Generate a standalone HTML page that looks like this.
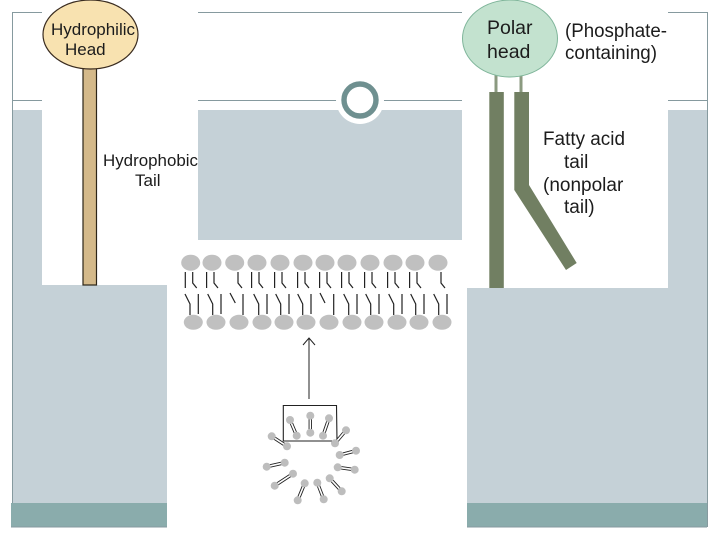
<!DOCTYPE html>
<html><head><meta charset="utf-8">
<style>html,body{margin:0;padding:0;background:#fff}svg{display:block}text{font-family:"Liberation Sans",sans-serif;fill:#1c1c1c}</style>
</head><body>
<svg width="720" height="540" viewBox="0 0 720 540" xmlns="http://www.w3.org/2000/svg">
<defs>
<g id="tu" fill="none" stroke="#222" stroke-width="1.2"><path d="M-5.4 272V288"/><path d="M2 272V283L6 288"/></g>
<g id="tb" fill="none" stroke="#222" stroke-width="1.2"><path d="M-8.3 294L-3.3 304V315"/><path d="M5 294V314"/></g>
</defs>
<rect width="720" height="540" fill="#fff"/>
<!-- background panels -->
<rect x="12" y="110" width="695" height="393" fill="#c5d1d7"/>
<rect x="42" y="100" width="156" height="185" fill="#fff"/>
<rect x="167" y="240" width="300" height="300" fill="#fff"/>
<rect x="462" y="100" width="206" height="188" fill="#fff"/>
<rect x="11" y="503" width="156" height="24" fill="#8aacac"/>
<rect x="467" y="503" width="240" height="24" fill="#8aacac"/>
<!-- frame lines -->
<g stroke="#869a9f" stroke-width="1" fill="none">
<path d="M12.5 12V503"/><path d="M707.5 12V527"/>
<path d="M12 12.5H42"/><path d="M198 12.5H462"/><path d="M668 12.5H707"/>
<path d="M12 100.5H42"/><path d="M198 100.5H462"/><path d="M668 100.5H707"/>
<path d="M11 527H167"/><path d="M467 527H707"/>
</g>
<!-- ring -->
<circle cx="360" cy="100" r="24" fill="#fff"/>
<circle cx="360" cy="100" r="16" fill="#fff" stroke="#6f9090" stroke-width="5.4"/>
<!-- left molecule -->
<rect x="83" y="68" width="13.5" height="217" fill="#d4b98a" stroke="#2c2418" stroke-width="1.2"/>
<ellipse cx="90.5" cy="34.5" rx="47.5" ry="34.5" fill="#f8e2b0" stroke="#3a2c20" stroke-width="1.2"/>
<text x="51" y="35" font-size="17" textLength="84" lengthAdjust="spacingAndGlyphs">Hydrophilic</text>
<text x="65" y="55" font-size="17">Head</text>
<text x="103" y="166" font-size="17" textLength="95" lengthAdjust="spacingAndGlyphs">Hydrophobic</text>
<text x="135" y="186" font-size="17">Tail</text>
<!-- right molecule -->
<rect x="494.5" y="74" width="3" height="20" fill="#8b9a80"/>
<rect x="519.5" y="74" width="3" height="20" fill="#8b9a80"/>
<ellipse cx="510" cy="38.5" rx="47.5" ry="38.5" fill="#c3e2cf" stroke="#7fb59a" stroke-width="1"/>
<rect x="489.3" y="92" width="14.5" height="196" fill="#717f62"/>
<path d="M514.3 92H529V185L576.7 263L566 270L514.3 190Z" fill="#717f62"/>
<text x="487" y="34" font-size="19.5">Polar</text>
<text x="487" y="58" font-size="19.5">head</text>
<text x="565" y="37" font-size="19" textLength="102" lengthAdjust="spacingAndGlyphs">(Phosphate-</text>
<text x="565" y="59" font-size="19" textLength="92" lengthAdjust="spacingAndGlyphs">containing)</text>
<text x="543" y="145" font-size="19" textLength="82" lengthAdjust="spacingAndGlyphs">Fatty acid</text>
<text x="564" y="168" font-size="19">tail</text>
<text x="543" y="191" font-size="19">(nonpolar</text>
<text x="564" y="213" font-size="19">tail)</text>
<!-- bilayer tails -->
<use href="#tu" x="190.7"/><use href="#tu" x="212"/>
<path d="M238 272V283L242 288" fill="none" stroke="#222" stroke-width="1.2"/>
<use href="#tu" x="257"/><use href="#tu" x="280"/><use href="#tu" x="303"/><use href="#tu" x="325"/><use href="#tu" x="347"/><use href="#tu" x="370"/><use href="#tu" x="393"/><use href="#tu" x="415"/>
<path d="M441 272V283L445 288" fill="none" stroke="#222" stroke-width="1.2"/>
<use href="#tb" x="193.3"/><use href="#tb" x="216"/>
<path d="M230 293L235.3 303M243 294V315" fill="none" stroke="#222" stroke-width="1.2"/>
<use href="#tb" x="262"/><use href="#tb" x="284"/><use href="#tb" x="306"/>
<path d="M320 293L325 303M333.7 294V315" fill="none" stroke="#222" stroke-width="1.2"/>
<use href="#tb" x="352"/><use href="#tb" x="374"/><use href="#tb" x="397"/><use href="#tb" x="419"/><use href="#tb" x="442"/>
<!-- bilayer heads -->
<g fill="#c0c0c0">
<ellipse cx="190.7" cy="262.7" rx="9.5" ry="8"/><ellipse cx="212" cy="262.7" rx="9.5" ry="8"/><ellipse cx="234.7" cy="262.7" rx="9.5" ry="8"/><ellipse cx="257" cy="262.7" rx="9.5" ry="8"/><ellipse cx="280" cy="262.7" rx="9.5" ry="8"/><ellipse cx="303" cy="262.7" rx="9.5" ry="8"/><ellipse cx="325" cy="262.7" rx="9.5" ry="8"/><ellipse cx="347" cy="262.7" rx="9.5" ry="8"/><ellipse cx="370" cy="262.7" rx="9.5" ry="8"/><ellipse cx="393" cy="262.7" rx="9.5" ry="8"/><ellipse cx="415" cy="262.7" rx="9.5" ry="8"/><ellipse cx="438" cy="262.7" rx="9.5" ry="8"/>
<ellipse cx="193.3" cy="322.3" rx="9.5" ry="7.5"/><ellipse cx="216" cy="322.3" rx="9.5" ry="7.5"/><ellipse cx="239" cy="322.3" rx="9.5" ry="7.5"/><ellipse cx="262" cy="322.3" rx="9.5" ry="7.5"/><ellipse cx="284" cy="322.3" rx="9.5" ry="7.5"/><ellipse cx="306" cy="322.3" rx="9.5" ry="7.5"/><ellipse cx="329" cy="322.3" rx="9.5" ry="7.5"/><ellipse cx="352" cy="322.3" rx="9.5" ry="7.5"/><ellipse cx="374" cy="322.3" rx="9.5" ry="7.5"/><ellipse cx="397" cy="322.3" rx="9.5" ry="7.5"/><ellipse cx="419" cy="322.3" rx="9.5" ry="7.5"/><ellipse cx="442" cy="322.3" rx="9.5" ry="7.5"/>
</g>
<!-- arrow -->
<path d="M309 399V338M303 345L309 338L315 345" fill="none" stroke="#222" stroke-width="1"/>
<!-- box -->
<path d="M283.3 405.5H336.5L337 441H283.3Z" fill="none" stroke="#222" stroke-width="1.1"/>
<!-- micelle tails -->
<g fill="none" stroke="#222" stroke-width="3.4">
<path d="M290 420L296.7 435.7M310.3 415.7V432.7M329 418.3L323 435.7M346 430.3L335 443.3M356 450.7L339.7 455M354.7 469.7L337.7 467.3M341.7 491.3L329.7 478.3M323.7 499.3L317.3 482.7M297.7 500.3L304.7 483.3M274.7 485.7L293 473.7M266.7 466.7L284.7 462.7M271.7 436.3L287 446.3"/>
</g>
<g fill="none" stroke="#fff" stroke-width="1.6">
<path d="M290 420L296.7 435.7M310.3 415.7V432.7M329 418.3L323 435.7M346 430.3L335 443.3M356 450.7L339.7 455M354.7 469.7L337.7 467.3M341.7 491.3L329.7 478.3M323.7 499.3L317.3 482.7M297.7 500.3L304.7 483.3M274.7 485.7L293 473.7M266.7 466.7L284.7 462.7M271.7 436.3L287 446.3"/>
</g>
<!-- micelle heads -->
<g fill="#bdbdbd">
<circle cx="290" cy="420" r="4"/><circle cx="296.7" cy="435.7" r="4"/><circle cx="310.3" cy="415.7" r="4"/><circle cx="310.3" cy="432.7" r="4"/><circle cx="329" cy="418.3" r="4"/><circle cx="323" cy="435.7" r="4"/><circle cx="346" cy="430.3" r="4"/><circle cx="335" cy="443.3" r="4"/><circle cx="356" cy="450.7" r="4"/><circle cx="339.7" cy="455" r="4"/><circle cx="354.7" cy="469.7" r="4"/><circle cx="337.7" cy="467.3" r="4"/><circle cx="341.7" cy="491.3" r="4"/><circle cx="329.7" cy="478.3" r="4"/><circle cx="323.7" cy="499.3" r="4"/><circle cx="317.3" cy="482.7" r="4"/><circle cx="297.7" cy="500.3" r="4"/><circle cx="304.7" cy="483.3" r="4"/><circle cx="274.7" cy="485.7" r="4"/><circle cx="293" cy="473.7" r="4"/><circle cx="266.7" cy="466.7" r="4"/><circle cx="284.7" cy="462.7" r="4"/><circle cx="271.7" cy="436.3" r="4"/><circle cx="287" cy="446.3" r="4"/>
</g>
</svg>
</body></html>
